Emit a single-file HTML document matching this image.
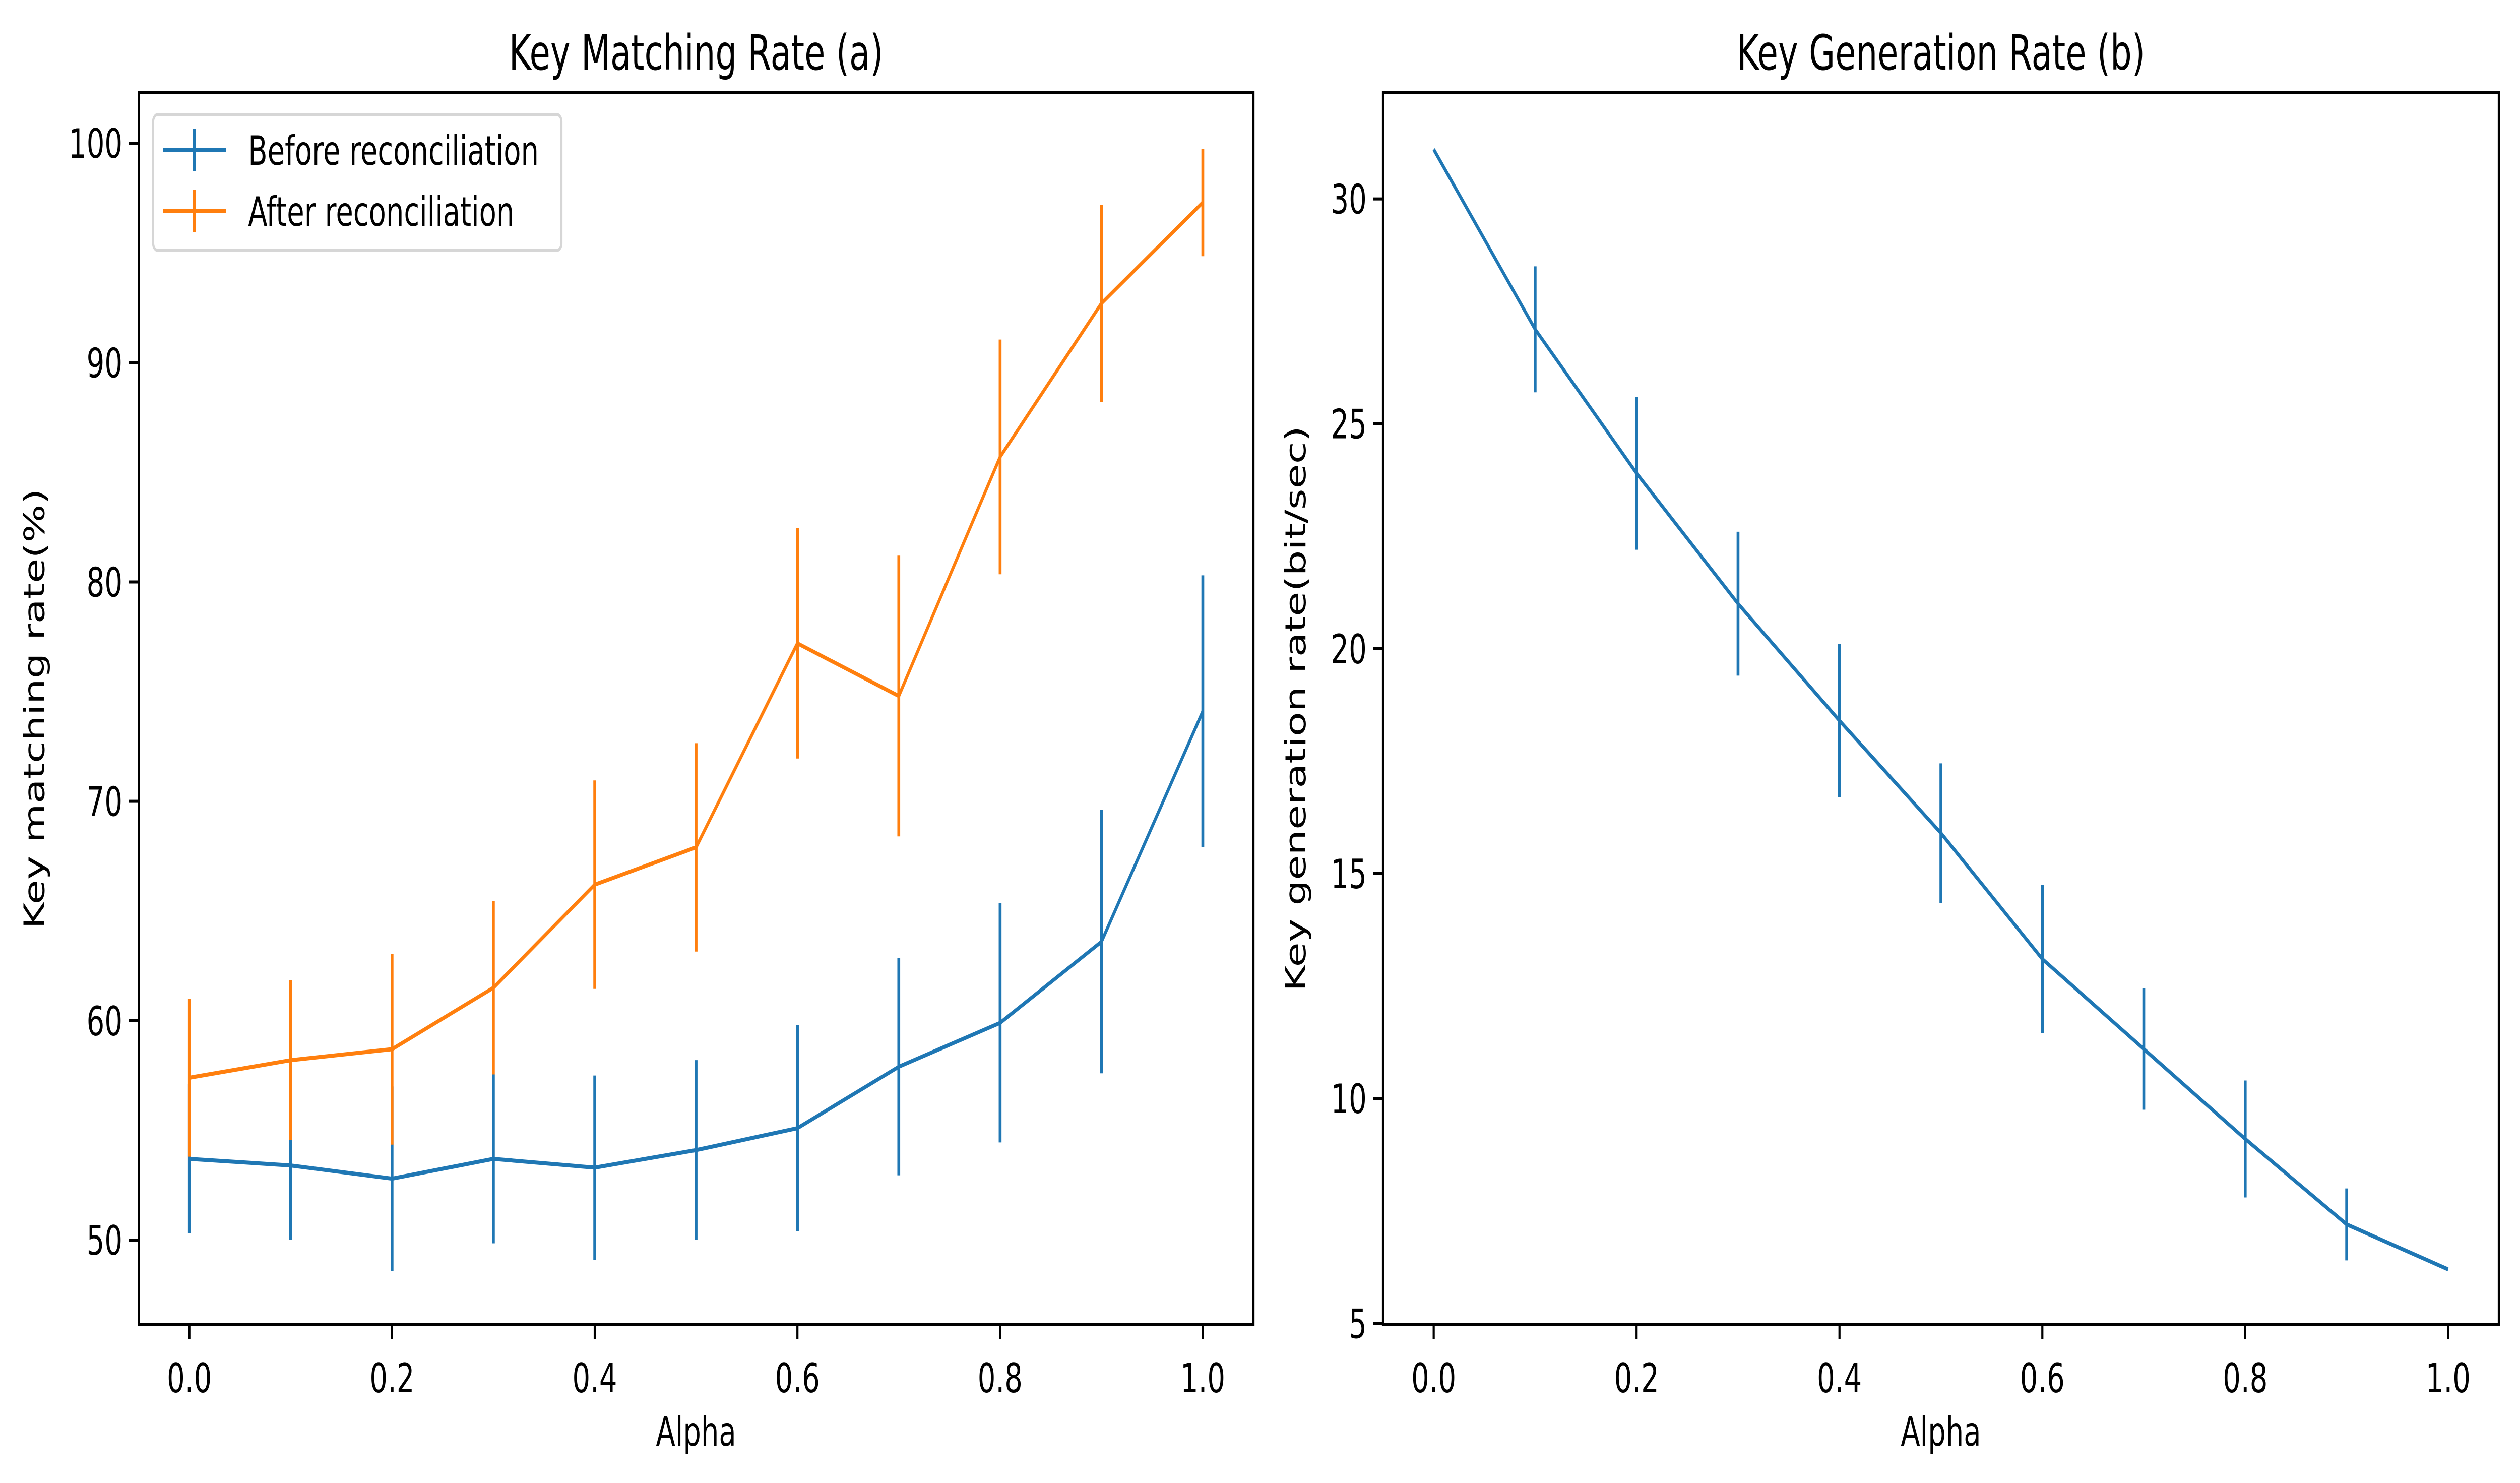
<!DOCTYPE html>
<html><head><meta charset="utf-8"><style>
html,body{margin:0;padding:0;background:#fff;overflow:hidden;width:100%;height:100%}
svg{display:block;width:100vw;height:100vh;font-family:"DejaVu Sans","Liberation Sans",sans-serif}
</style></head><body>
<svg id="fig" viewBox="0 0 7141 2942" preserveAspectRatio="none" xmlns="http://www.w3.org/2000/svg">
<rect width="7141" height="2942" fill="#fff"/>
<g id="root"></g>
</svg>
<script>
const alphas=[0,0.1,0.2,0.3,0.4,0.5,0.6,0.7,0.8,0.9,1.0];
const beforeVals=[53.7,53.4,52.8,53.7,53.3,54.1,55.1,57.9,59.9,63.6,74.1];
const beforeErr=[3.4,3.4,4.2,3.85,4.2,4.1,4.7,4.95,5.45,6.0,6.2];
const afterVals=[57.4,58.2,58.7,61.5,66.2,67.9,77.2,74.8,85.7,92.7,97.3];
const afterErr=[3.6,3.65,4.35,3.95,4.75,4.75,5.25,6.4,5.35,4.5,2.45];
const genVals=[31.1,27.1,23.9,21.0,18.4,15.9,13.1,11.1,9.1,7.2,6.2];
const genErr=[0,1.4,1.7,1.6,1.7,1.55,1.65,1.35,1.3,0.8,0];
const xTicks=[0,0.2,0.4,0.6,0.8,1.0];
const xTickLabels=["0.0","0.2","0.4","0.6","0.8","1.0"];
const leftYTicks=[50,60,70,80,90,100];
const rightYTicks=[5,10,15,20,25,30];

const NS="http://www.w3.org/2000/svg";
const rootG=document.getElementById('root');
function mk(tag,attrs,parent){const e=document.createElementNS(NS,tag);for(const k in attrs)e.setAttribute(k,attrs[k]);(parent||rootG).appendChild(e);return e;}
const AX_TOP=184,AX_BOT=2628;
function panel(L,R,ymin,ymax,yTicks,title,ylabel,series,key){
  const g=mk('g',{});
  
  
  const sx=v=>L+(v+0.05)/1.1*(R-L);
  const sy=v=>AX_BOT-(v-ymin)/(ymax-ymin)*(AX_BOT-AX_TOP);
  series.forEach(s=>{
    const pts=alphas.map((a,i)=>sx(a).toFixed(1)+','+sy(s.vals[i]).toFixed(1)).join(' ');
    const pl=mk('polyline',{points:pts,fill:'none',stroke:s.color,'stroke-width':8,'stroke-linejoin':'round'},g);
    
    
    alphas.forEach((a,i)=>{
      if(s.err[i]<=0)return;
      const el=mk('line',{x1:sx(a),x2:sx(a),y1:sy(s.vals[i]-s.err[i]),y2:sy(s.vals[i]+s.err[i]),stroke:s.color,'stroke-width':8},g);
      
      
    });
  });
  const fr=mk('rect',{x:L,y:AX_TOP,width:R-L,height:AX_BOT-AX_TOP,fill:'none',stroke:'#000','stroke-width':6},g);
  
  
  xTicks.forEach((t,i)=>{
    mk('line',{x1:sx(t),x2:sx(t),y1:AX_BOT,y2:AX_BOT+28,stroke:'#000','stroke-width':6},g);
    const tx=mk('text',{x:sx(t),y:2762,'font-size':80,'text-anchor':'middle'},g);
    tx.textContent=xTickLabels[i];
    
    
  });
  yTicks.forEach(t=>{
    mk('line',{x1:L-28,x2:L,y1:sy(t),y2:sy(t),stroke:'#000','stroke-width':6},g);
    const tx=mk('text',{x:L-46,y:sy(t)+29,'font-size':80,'text-anchor':'end'},g);
    tx.textContent=String(t);
    
    
  });
  const ti=mk('text',{x:(L+R)/2,y:138,'font-size':96,'text-anchor':'middle'},g);
  ti.textContent=title;
  
  
  const xl=mk('text',{x:(L+R)/2,y:2868,'font-size':80,'text-anchor':'middle'},g);
  xl.textContent='Alpha';
  
  
  const yx=L-(key==='left'?268:220);
  const yc=(AX_TOP+AX_BOT)/2;
  const yl=mk('text',{x:yx,y:yc,'font-size':80,'text-anchor':'middle',transform:'rotate(-90 '+yx+' '+yc+')'},g);
  yl.textContent=ylabel;
  
  
}
panel(393,3552,46.14,102.3,leftYTicks,'Key Matching Rate (a)','Key matching rate(%)',[
  {name:'before',vals:beforeVals,err:beforeErr,color:'#1f77b4'},
  {name:'after',vals:afterVals,err:afterErr,color:'#ff7f0e'}],'left');
panel(3919,7081,4.97,32.36,rightYTicks,'Key Generation Rate (b)','Key generation rate(bit/sec)',[
  {name:'generation',vals:genVals,err:genErr,color:'#1f77b4'}],'right');
const lg=mk('g',{});


mk('rect',{x:434,y:227,width:1157,height:270,rx:14,fill:'#fff','fill-opacity':0.8,stroke:'#d6d6d6','stroke-width':6},lg);
[['Before reconciliation','#1f77b4',297],['After reconciliation','#ff7f0e',418]].forEach(([t,c,y])=>{
  const e=mk('g',{},lg);
  
  
  mk('line',{x1:462,x2:640,y1:y,y2:y,stroke:c,'stroke-width':8},e);
  mk('line',{x1:551,x2:551,y1:y-42,y2:y+42,stroke:c,'stroke-width':8},e);
  const tx=mk('text',{x:703,y:y+30,'font-size':80},e);
  tx.textContent=t;
});
</script>
</body></html>
